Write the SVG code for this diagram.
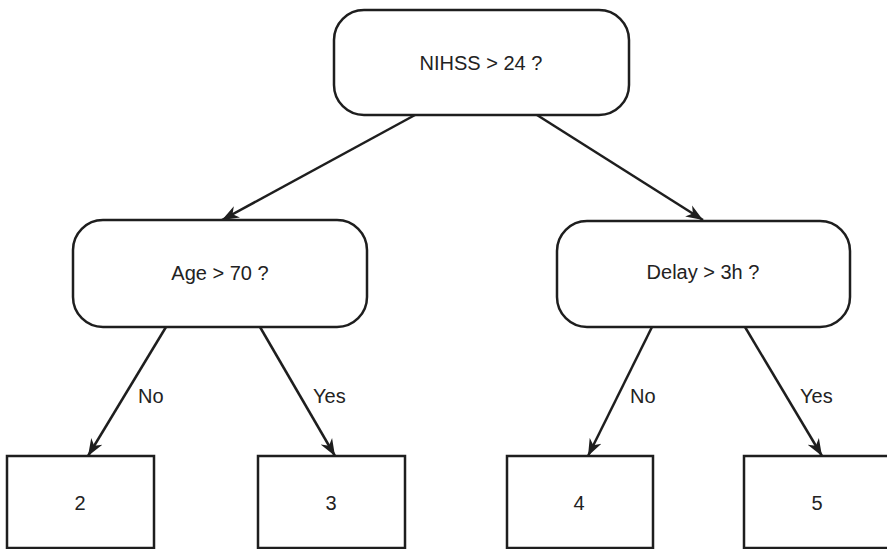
<svg xmlns="http://www.w3.org/2000/svg" width="887" height="549" viewBox="0 0 887 549">
<defs>
<style>
.box{fill:#fff;stroke:#1e1e1e;stroke-width:2.5}
.t{font-family:"Liberation Sans",Arial,sans-serif;font-size:20px;fill:#222;text-anchor:middle}
.lbl{font-family:"Liberation Sans",Arial,sans-serif;font-size:20px;fill:#222}
.edge{stroke:#1e1e1e;stroke-width:2.5;fill:none;marker-end:url(#arr)}
</style>
<marker id="arr" viewBox="-17 -7 18 14" refX="0" refY="0" markerWidth="18" markerHeight="14" markerUnits="userSpaceOnUse" orient="auto">
<path d="M0,0 L-17,-6.5 L-12,0 L-17,6.5 Z" fill="#1e1e1e"/>
</marker>
</defs>
<rect width="887" height="549" fill="#fff"/>
<g id="connectors">
<line class="edge" x1="415" y1="115" x2="222" y2="220"/>
<line class="edge" x1="537" y1="115" x2="703" y2="220"/>
<line class="edge" x1="166" y1="327" x2="88" y2="456"/>
<line class="edge" x1="260" y1="327" x2="335" y2="456"/>
<line class="edge" x1="652" y1="327" x2="588" y2="456"/>
<line class="edge" x1="745" y1="327" x2="822" y2="456"/>
<text class="lbl" x="138" y="403">No</text>
<text class="lbl" x="313" y="403">Yes</text>
<text class="lbl" x="630" y="403">No</text>
<text class="lbl" x="800" y="403">Yes</text>
</g>
<g id="n_nihss">
<rect class="box" x="334" y="10" width="295" height="105" rx="30" ry="30"/>
<text class="t" x="481" y="70">NIHSS &gt; 24 ?</text>
</g>
<g id="n_age">
<rect class="box" x="73" y="220" width="294" height="107" rx="30" ry="30"/>
<text class="t" x="220" y="280">Age &gt; 70 ?</text>
</g>
<g id="n_delay">
<rect class="box" x="557" y="221" width="293" height="106" rx="30" ry="30"/>
<text class="t" x="703" y="279">Delay &gt; 3h ?</text>
</g>
<g id="leaf2">
<rect class="box" x="7" y="456" width="147" height="92"/>
<text class="t" x="80" y="510">2</text>
</g>
<g id="leaf3">
<rect class="box" x="258" y="456" width="147" height="92"/>
<text class="t" x="331" y="510">3</text>
</g>
<g id="leaf4">
<rect class="box" x="507" y="456" width="146" height="92"/>
<text class="t" x="579" y="510">4</text>
</g>
<g id="leaf5">
<rect class="box" x="744" y="456" width="147" height="92"/>
<text class="t" x="817" y="510">5</text>
</g>
</svg>
